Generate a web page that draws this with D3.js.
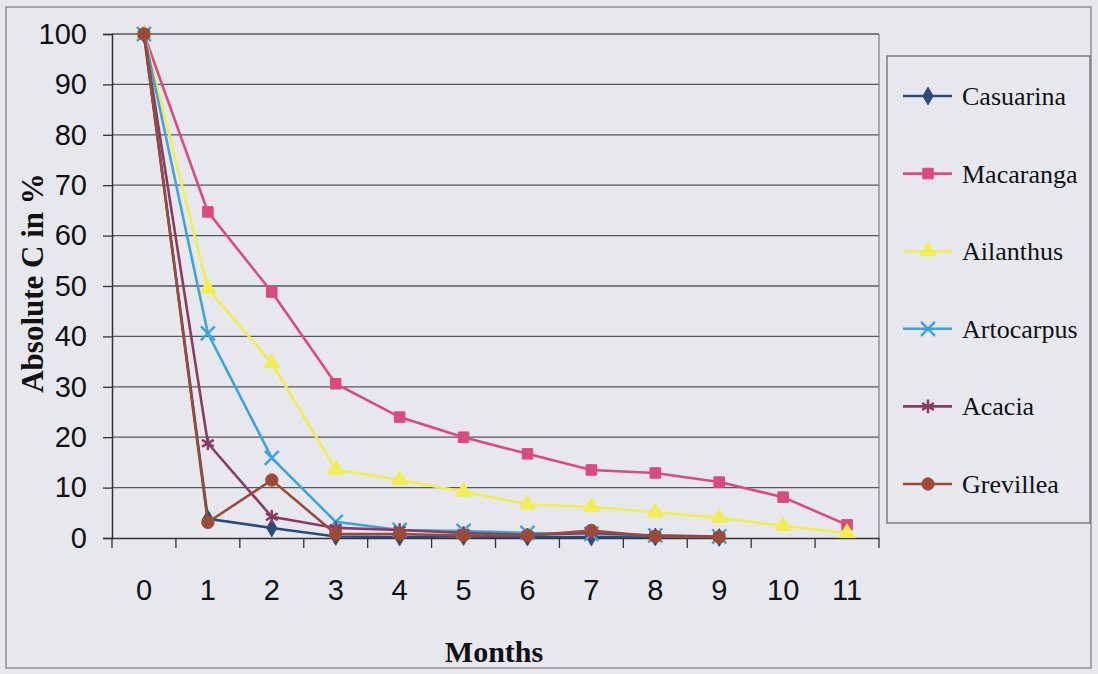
<!DOCTYPE html>
<html>
<head>
<meta charset="utf-8">
<script src="https://cdn.jsdelivr.net/npm/d3@7"></script>
<style>
  body { margin: 0; background: #e6e8ee; }
  svg { display: block; }
</style>
</head>
<body>
<div id="chart"></div>
<script>
'use strict';

// data
var months = ['0', '1', '2', '3', '4', '5', '6', '7', '8', '9', '10', '11'];
var yTicks = [0, 10, 20, 30, 40, 50, 60, 70, 80, 90, 100];
var seriesNames = ['Casuarina', 'Macaranga', 'Ailanthus', 'Artocarpus', 'Acacia', 'Grevillea'];
var casuarina = [100, 3.8, 2, 0.3, 0.2, 0.3, 0.2, 0.2, 0.2, 0.1];
var macaranga = [100, 64.7, 48.8, 30.6, 24, 20, 16.7, 13.5, 12.9, 11.1, 8.1, 2.6];
var ailanthus = [100, 49.5, 34.7, 13.6, 11.5, 9.2, 6.7, 6.2, 5.1, 4.0, 2.4, 1.0];
var artocarpus = [100, 40.6, 15.9, 3.2, 1.6, 1.4, 1.0, 0.8, 0.5, 0.3];
var acacia = [100, 18.8, 4.2, 2.0, 1.6, 1.0, 0.6, 1.0, 0.5, 0.3];
var grevillea = [100, 3.1, 11.5, 0.8, 0.8, 0.5, 0.5, 1.5, 0.3, 0.2];

var seriesValues = [casuarina, macaranga, ailanthus, artocarpus, acacia, grevillea];
var colorPattern = ['#2b4a7c', '#dc4a7c', '#f2ee52', '#3ea4dc', '#8a3a66', '#9c4a36'];
var markerTypes = [d3.symbolDiamond, d3.symbolSquare, d3.symbolTriangle, d3.symbolTimes, d3.symbolAsterisk, d3.symbolCircle];
var markerSizes = [90, 110, 110, 130, 130, 120];

var width = 1098, height = 674;
var plot = {left: 112, right: 879, top: 34, bottom: 538};

var svg = d3.select('#chart').append('svg')
  .attr('width', width)
  .attr('height', height);

// chart background + outer frame
svg.append('rect')
  .attr('x', 6).attr('y', 7)
  .attr('width', 1085).attr('height', 661)
  .attr('fill', '#e6e8ee')
  .attr('stroke', '#8d8f95')
  .attr('stroke-width', 1.5);

var x = d3.scaleBand().domain(months).range([plot.left, plot.right]);
var y = d3.scaleLinear().domain([0, 100]).range([plot.bottom, plot.top]);

// gridlines
svg.append('g').selectAll('line')
  .data(yTicks.slice(1))
  .enter().append('line')
  .attr('x1', plot.left).attr('x2', plot.right)
  .attr('y1', function (d) { return y(d); })
  .attr('y2', function (d) { return y(d); })
  .attr('stroke', '#55575d')
  .attr('stroke-width', 1.3);

// right plot edge
svg.append('line')
  .attr('x1', plot.right).attr('x2', plot.right)
  .attr('y1', plot.top).attr('y2', plot.bottom)
  .attr('stroke', '#7a7c82').attr('stroke-width', 1.2);

// y axis
var yAxis = svg.append('g')
  .attr('transform', 'translate(' + plot.left + ',0)')
  .call(d3.axisLeft(y).tickValues(yTicks).tickSize(9).tickPadding(16));
yAxis.select('.domain').attr('stroke', '#333').attr('stroke-width', 1.5);
yAxis.selectAll('.tick line').attr('stroke', '#333').attr('stroke-width', 1.3);
yAxis.selectAll('text')
  .attr('font-family', 'Liberation Sans, Arial, sans-serif')
  .attr('font-size', 29)
  .attr('fill', '#111');

// x axis, ticks sit between categories
var xAxis = svg.append('g')
  .attr('transform', 'translate(0,' + plot.bottom + ')')
  .call(d3.axisBottom(x).tickSize(0).tickPadding(41));
xAxis.select('.domain').attr('stroke', '#333').attr('stroke-width', 1.5);
xAxis.selectAll('text')
  .attr('font-family', 'Liberation Sans, Arial, sans-serif')
  .attr('font-size', 29)
  .attr('fill', '#111');
xAxis.selectAll('.tick').append('line')
  .attr('x1', x.bandwidth() / 2).attr('x2', x.bandwidth() / 2)
  .attr('y1', 0).attr('y2', 10)
  .attr('stroke', '#333').attr('stroke-width', 1.3);
xAxis.append('line')
  .attr('x1', plot.left).attr('x2', plot.left)
  .attr('y1', 0).attr('y2', 10)
  .attr('stroke', '#333').attr('stroke-width', 1.3);

// axis titles
svg.append('text')
  .attr('transform', 'translate(43,283) rotate(-90)')
  .attr('text-anchor', 'middle')
  .attr('font-family', 'Liberation Serif, Times New Roman, serif')
  .attr('font-weight', 'bold')
  .attr('font-size', 31)
  .attr('fill', '#111')
  .text('Absolute C in %');

svg.append('text')
  .attr('x', 494).attr('y', 662)
  .attr('text-anchor', 'middle')
  .attr('font-family', 'Liberation Serif, Times New Roman, serif')
  .attr('font-weight', 'bold')
  .attr('font-size', 30)
  .attr('fill', '#111')
  .text('Months');

// series
var line = d3.line()
  .x(function (d, i) { return x(months[i]) + x.bandwidth() / 2; })
  .y(function (d) { return y(d); });

function drawMarker(sel, k) {
  var sym = d3.symbol().type(markerTypes[k]).size(markerSizes[k]);
  var isStroke = k === 3 || k === 4;
  sel.attr('d', sym)
    .attr('fill', isStroke ? 'none' : colorPattern[k])
    .attr('stroke', colorPattern[k])
    .attr('stroke-width', isStroke ? 2.5 : 1);
}

var seriesG = svg.append('g');
seriesValues.forEach(function (vals, k) {
  var g = seriesG.append('g').attr('class', 'series');
  g.append('path')
    .datum(vals)
    .attr('d', line)
    .attr('fill', 'none')
    .attr('stroke', colorPattern[k])
    .attr('stroke-width', 2.6);
  g.selectAll('path.marker')
    .data(vals)
    .enter().append('path')
    .attr('class', 'marker')
    .attr('transform', function (d, i) {
      return 'translate(' + (x(months[i]) + x.bandwidth() / 2) + ',' + y(d) + ')';
    })
    .call(drawMarker, k);
});

// legend
var legend = svg.append('g');
legend.append('rect')
  .attr('x', 887).attr('y', 56)
  .attr('width', 203).attr('height', 467)
  .attr('fill', '#e6e8ee')
  .attr('stroke', '#6c6e74')
  .attr('stroke-width', 1.3);

var legendY = d3.scalePoint().domain(seriesNames).range([96, 484]);
var items = legend.selectAll('g.item')
  .data(seriesNames)
  .enter().append('g')
  .attr('class', 'item')
  .attr('transform', function (d) { return 'translate(0,' + legendY(d) + ')'; });

items.append('line')
  .attr('x1', 903).attr('x2', 952)
  .attr('stroke', function (d, i) { return colorPattern[i]; })
  .attr('stroke-width', 2.6);
items.append('path')
  .attr('transform', 'translate(928,0)')
  .each(function (d, i) { d3.select(this).call(drawMarker, i); });
items.append('text')
  .attr('x', 962).attr('y', 9)
  .attr('font-family', 'Liberation Serif, Times New Roman, serif')
  .attr('font-size', 26)
  .attr('fill', '#111')
  .text(function (d) { return d; });
</script>
</body>
</html>
